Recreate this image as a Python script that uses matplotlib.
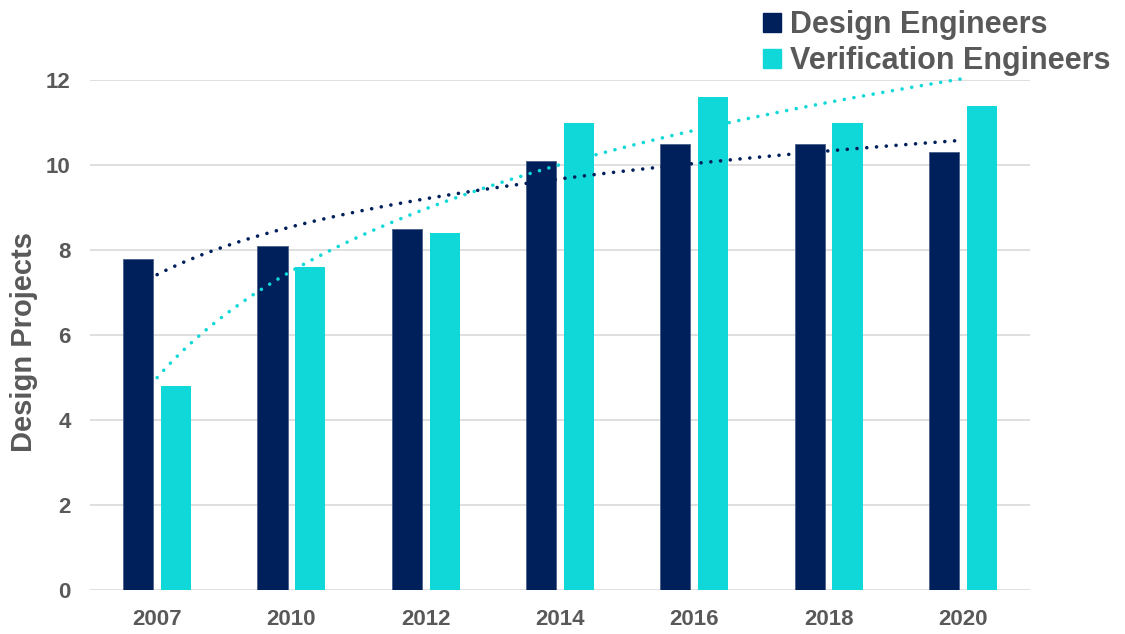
import numpy as np
import matplotlib.pyplot as plt
from matplotlib.patches import Patch

years = ['2007', '2010', '2012', '2014', '2016', '2018', '2020']
design = [7.8, 8.1, 8.5, 10.1, 10.5, 10.5, 10.3]
verification = [4.8, 7.6, 8.4, 11.0, 11.6, 11.0, 11.4]

navy = '#00205C'
cyan = '#10D8D8'
grey = '#595959'

plt.rcParams['font.family'] = ['Liberation Sans', 'DejaVu Sans']

fig = plt.figure(figsize=(11.25, 6.34), dpi=100)
ax = fig.add_axes([0.08, 0.0694, 0.8356, 0.8044])

x = np.arange(len(years))
w = 0.225
off = 0.141
ax.bar(x - off, design, w, color=navy, edgecolor='#4a5f8a', linewidth=0.6, zorder=3)
ax.bar(x + off, verification, w, color=cyan, zorder=3)

# logarithmic trendlines (Excel style), fitted on category index 1..n
n = np.arange(1, len(years) + 1)
xs = np.linspace(1, len(years), 200)
for vals, col in [(design, navy), (verification, cyan)]:
    a, b = np.polyfit(np.log(n), vals, 1)
    ax.plot(xs - 1, a * np.log(xs) + b, color=col, lw=2.6,
            linestyle=(0, (0.01, 2.7)), dash_capstyle='round',
            zorder=4, clip_on=False)

ax.set_xlim(-0.5, len(years) - 0.5)
ax.set_ylim(0, 12)
ax.set_yticks(range(0, 13, 2))
ax.set_xticks(x)
ax.set_xticklabels(years)
ax.grid(axis='y', color='#d9d9d9', lw=1.2, zorder=0)
for s in ax.spines.values():
    s.set_visible(False)
ax.tick_params(length=0, labelsize=16, labelcolor=grey)
for lab in ax.get_xticklabels() + ax.get_yticklabels():
    lab.set_fontweight('bold')
ax.tick_params(axis='y', pad=14)
ax.tick_params(axis='x', pad=14)

fig.text(24 / 1125, 1 - 342 / 634, 'Design Projects', rotation=90,
         ha='center', va='center', fontsize=21, fontweight='bold', color=grey)

handles = [Patch(color=navy), Patch(color=cyan)]
fig.legend(handles, ['Design Engineers', 'Verification Engineers'],
           loc='upper left', bbox_to_anchor=(0.6645, 1.008), frameon=False,
           prop={'size': 22, 'weight': 'bold'}, labelcolor=grey,
           handlelength=0.6, handleheight=0.6, handletextpad=0.28,
           labelspacing=0.2, borderaxespad=0.1)

fig.savefig('out.png', dpi=100)
